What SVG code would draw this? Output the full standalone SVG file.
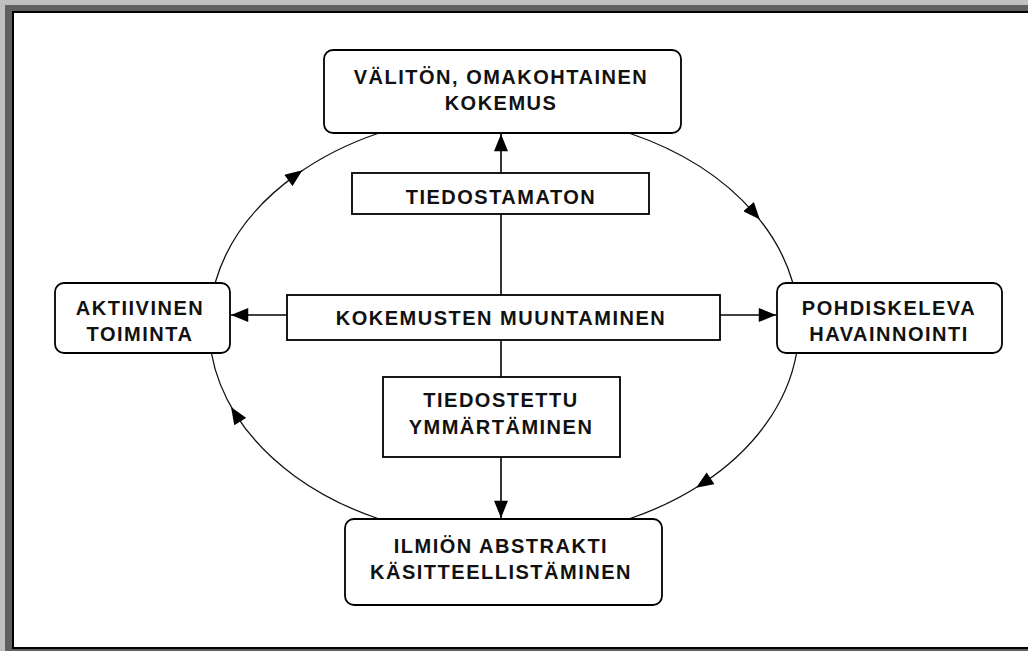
<svg xmlns="http://www.w3.org/2000/svg" width="1028" height="651" viewBox="0 0 1028 651">
<defs>
<style>
.box{fill:#fff;stroke:#000;stroke-width:1.8}
.t{font-family:"Liberation Sans",Arial,sans-serif;font-weight:bold;font-size:20px;letter-spacing:1.5px;fill:#111;text-anchor:middle}
.arc{fill:none;stroke:#111;stroke-width:1.3;marker-mid:url(#mid)}
.ln{fill:none;stroke:#000;stroke-width:1.6;marker-end:url(#end)}
</style>
<marker id="mid" markerUnits="userSpaceOnUse" markerWidth="18" markerHeight="14" refX="8" refY="6.5" orient="auto" viewBox="0 0 16 13">
<path d="M0,0 L16,6.5 L0,13 Z" fill="#000"/>
</marker>
<marker id="end" markerUnits="userSpaceOnUse" markerWidth="18" markerHeight="14" refX="16" refY="6.5" orient="auto" viewBox="0 0 16 13">
<path d="M0,0 L16,6.5 L0,13 Z" fill="#000"/>
</marker>
</defs>
<g id="frame">
<rect x="0" y="0" width="1028" height="651" fill="#c0c0c0"/>
<rect x="5" y="5" width="1023" height="646" fill="#606060"/>
<rect x="12" y="11" width="1016" height="638" fill="#000"/>
<rect x="14" y="13" width="1014" height="634" fill="#fff"/>
</g>
<g id="connectors">
<path class="arc" d="M215.1 283 A295 213 0 0 1 295.4 175.4 A295 213 0 0 1 379.2 133"/>
<path class="arc" d="M628.8 133 A295 213 0 0 1 754.2 213.1 A295 213 0 0 1 792.9 283"/>
<path class="arc" d="M796.6 353 A295 213 0 0 1 703.3 483 A295 213 0 0 1 628.8 519"/>
<path class="arc" d="M379.2 519 A295 213 0 0 1 235.6 414.3 A295 213 0 0 1 211.4 353"/>
<path class="ln" d="M501 295 L501 134"/>
<path class="ln" d="M287 315 L231 315"/>
<path class="ln" d="M720 315 L776 315"/>
<path class="ln" d="M501 340 L501 518"/>
</g>
<g id="n-kokemus">
<rect class="box" x="324" y="50" width="357" height="83" rx="9"/>
<text class="t" x="501" y="84">VÄLITÖN, OMAKOHTAINEN</text>
<text class="t" x="501" y="110">KOKEMUS</text>
</g>
<g id="n-tiedostamaton">
<rect class="box" x="352" y="173" width="297" height="41"/>
<text class="t" x="501" y="204">TIEDOSTAMATON</text>
</g>
<g id="n-muuntaminen">
<rect class="box" x="287" y="295" width="433" height="45"/>
<text class="t" x="501" y="325">KOKEMUSTEN MUUNTAMINEN</text>
</g>
<g id="n-aktiivinen">
<rect class="box" x="55" y="283" width="175" height="70" rx="9"/>
<text class="t" x="140" y="315">AKTIIVINEN</text>
<text class="t" x="140" y="341">TOIMINTA</text>
</g>
<g id="n-pohdiskeleva">
<rect class="box" x="777" y="283" width="225" height="70" rx="9"/>
<text class="t" x="889" y="315">POHDISKELEVA</text>
<text class="t" x="889" y="341">HAVAINNOINTI</text>
</g>
<g id="n-tiedostettu">
<rect class="box" x="383" y="377" width="237" height="80"/>
<text class="t" x="501" y="407">TIEDOSTETTU</text>
<text class="t" x="501" y="434">YMMÄRTÄMINEN</text>
</g>
<g id="n-ilmion">
<rect class="box" x="345" y="519" width="317" height="86" rx="9"/>
<text class="t" x="501" y="553">ILMIÖN ABSTRAKTI</text>
<text class="t" x="501" y="579">KÄSITTEELLISTÄMINEN</text>
</g>
</svg>
